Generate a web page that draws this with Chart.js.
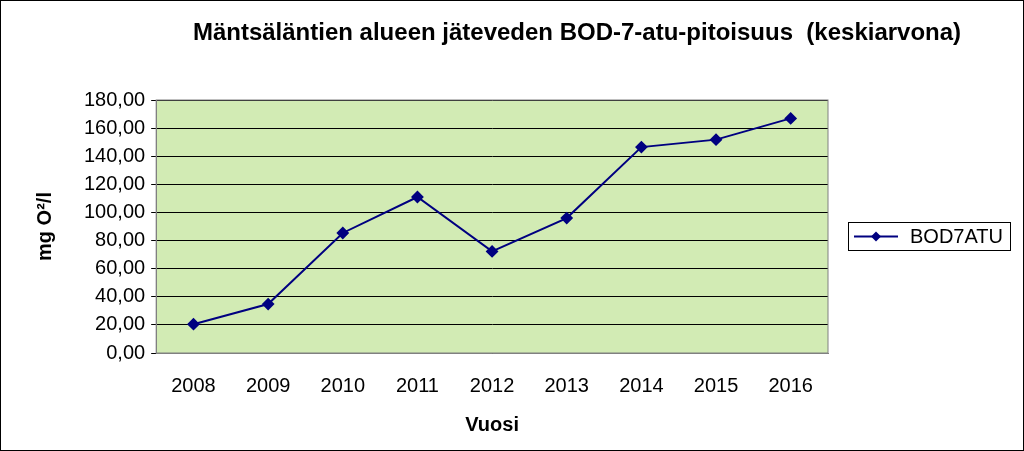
<!DOCTYPE html>
<html><head><meta charset="utf-8">
<script src="https://cdn.jsdelivr.net/npm/chart.js@4"></script>
<style>html,body{margin:0;padding:0;background:#fff}#w{width:1024px;height:451px}</style>
</head><body><div id="w"><canvas id="c" width="1024" height="451"></canvas></div>
<script>
const years = ["2008","2009","2010","2011","2012","2013","2014","2015","2016"];
const bod7atu = [20.5, 34.8, 85.4, 111.0, 72.3, 96.0, 146.5, 151.8, 166.9];
const seriesLabel = "BOD7ATU";
const chartTitle = "Mäntsäläntien alueen jäteveden BOD-7-atu-pitoisuus  (keskiarvona)";
const F = "'Liberation Sans', Arial, sans-serif";

const deco = {
  id:'deco',
  beforeDraw(ch){
    const c=ch.ctx,a=ch.chartArea;
    c.save();c.fillStyle='#fff';c.fillRect(0,0,ch.width,ch.height);
    c.fillStyle='#d2ebb4';c.fillRect(a.left,a.top,a.right-a.left,a.bottom-a.top);c.restore();
  },
  afterDraw(ch){
    const c=ch.ctx,a=ch.chartArea;
    c.save();c.strokeStyle='#000';c.lineWidth=1;
    c.strokeRect(0.5,0.5,ch.width-1,ch.height-1);
    c.strokeStyle='#808080';c.strokeRect(a.left,a.top,a.right-a.left,a.bottom-a.top);
    c.fillStyle='#000';c.font='bold 24px '+F;c.textAlign='center';c.textBaseline='middle';
    c.fillText(chartTitle,577,33);
    const lx=848,ly=222,lw=162,lh=28;
    c.strokeStyle='#000';c.strokeRect(lx+0.5,ly+0.5,lw,lh);
    const my=ly+lh/2+0.5;
    c.strokeStyle='#000080';c.lineWidth=2;c.beginPath();c.moveTo(lx+6,my);c.lineTo(lx+50,my);c.stroke();
    c.fillStyle='#000080';c.beginPath();c.moveTo(lx+28,my-5);c.lineTo(lx+33,my);c.lineTo(lx+28,my+5);c.lineTo(lx+23,my);c.closePath();c.fill();
    c.fillStyle='#000';c.font='20px '+F;c.textAlign='left';c.fillText(seriesLabel,lx+62,my+1);
    c.restore();
  }
};

new Chart(document.getElementById('c'),{
  type:'line',
  data:{labels:years,datasets:[{label:seriesLabel,data:bod7atu,borderColor:'#000080',backgroundColor:'#000080',
    borderWidth:2,pointStyle:'rectRot',pointRadius:5,pointHoverRadius:5,tension:0}]},
  options:{
    responsive:false,animation:false,devicePixelRatio:1,
    layout:{padding:{left:33,right:196,top:100,bottom:14}},
    plugins:{legend:{display:false},tooltip:{enabled:false},title:{display:false}},
    scales:{
      x:{offset:true,grid:{display:false},border:{color:'#808080'},
        ticks:{color:'#000',font:{family:F,size:20},padding:13,maxRotation:0},
        title:{display:true,text:'Vuosi',color:'#000',font:{family:F,size:20,weight:'bold'},padding:{top:2,bottom:0}}},
      y:{min:0,max:180,grid:{color:'#000',drawTicks:true,tickLength:5},border:{color:'#808080'},
        ticks:{stepSize:20,color:'#000',font:{family:F,size:20},padding:6,
          callback:v=>v.toFixed(2).replace('.',',')},
        title:{display:true,text:'mg O²/l',color:'#000',font:{family:F,size:20,weight:'bold'},padding:{top:0,bottom:21}}}
    }
  },
  plugins:[deco]
});
</script></body></html>
